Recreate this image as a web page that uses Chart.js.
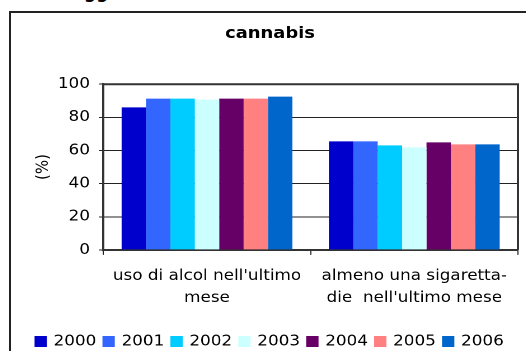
<!DOCTYPE html>
<html>
<head>
<meta charset="utf-8">
<script src="https://cdn.jsdelivr.net/npm/chart.js@4"></script>
<style>
  html, body { margin: 0; padding: 0; background: #fff; width: 526px; height: 351px; overflow: hidden; position: relative; font-family: "DejaVu Sans", sans-serif; }
  #frame { position: absolute; left: 9px; top: 11px; width: 600px; height: 400px; border-left: 2px solid #222; border-top: 2px solid #222; }
  #cut { position: absolute; left: 84px; top: -16px; font: bold 17px/17px "DejaVu Sans", sans-serif; color: #000; }
  #wrap { position: absolute; left: 12px; top: 0; width: 461px; height: 359px; transform: scaleX(1.1193); transform-origin: 0 0; }
</style>
</head>
<body>
<div id="cut">gg</div>
<div id="frame"></div>
<div id="wrap"><canvas id="c"></canvas></div>
<script>
const categories = [["uso di alcol nell'ultimo", "mese"], ["almeno una sigaretta-", "die  nell'ultimo mese"]];
const years = ["2000", "2001", "2002", "2003", "2004", "2005", "2006"];
const v2000 = [86.0, 65.5];
const v2001 = [91.3, 65.5];
const v2002 = [91.3, 63.1];
const v2003 = [90.7, 61.9];
const v2004 = [91.3, 64.9];
const v2005 = [91.3, 63.7];
const v2006 = [92.5, 63.7];
const yTicks = [0, 20, 40, 60, 80, 100];
const colors = ["#0000CC", "#3366FF", "#00CCFF", "#CCFFFF", "#660066", "#FF8080", "#0066CC"];
const seriesValues = [v2000, v2001, v2002, v2003, v2004, v2005, v2006];

const frameBox = {
  id: 'frameBox',
  afterDraw(chart) {
    const a = chart.chartArea, ctx = chart.ctx;
    ctx.save();
    ctx.strokeStyle = '#333';
    ctx.lineWidth = 2;
    ctx.beginPath();
    ctx.moveTo(a.left, a.top);
    ctx.lineTo(a.right, a.top);
    ctx.lineTo(a.right, a.bottom);
    ctx.stroke();
    ctx.restore();
  }
};

new Chart(document.getElementById('c'), {
  type: 'bar',
  data: {
    labels: categories,
    datasets: years.map((y, i) => ({
      label: y,
      data: seriesValues[i],
      backgroundColor: colors[i],
      borderWidth: 0,
      barPercentage: 1,
      categoryPercentage: 0.824
    }))
  },
  options: {
    responsive: true,
    maintainAspectRatio: false,
    animation: false,
    devicePixelRatio: 2,
    layout: { padding: { left: 9, right: 9, top: 0, bottom: 0 } },
    plugins: {
      title: {
        display: true,
        text: 'cannabis',
        color: '#000',
        font: { family: 'DejaVu Sans', size: 16, weight: 'bold' },
        padding: { top: 24, bottom: 41 }
      },
      legend: {
        position: 'bottom',
        labels: {
          color: '#000',
          font: { family: 'DejaVu Sans', size: 15 },
          boxWidth: 8,
          boxHeight: 8,
          padding: 7,
          generateLabels(chart) {
            const items = Chart.defaults.plugins.legend.labels.generateLabels(chart);
            items.forEach(it => { it.lineWidth = 3; it.strokeStyle = it.fillStyle; });
            return items;
          }
        }
      },
      tooltip: { enabled: false }
    },
    scales: {
      x: {
        offset: true,
        grid: { display: true, drawOnChartArea: false, offset: true, tickLength: 5, color: '#222' },
        border: { color: '#333', width: 2 },
        ticks: {
          color: '#000',
          font: { family: 'DejaVu Sans', size: 15, lineHeight: 1.47 },
          maxRotation: 0,
          autoSkip: false,
          padding: 10
        },
        afterFit(axis) { axis.height += 8; }
      },
      y: {
        min: 0,
        max: 100,
        afterBuildTicks(axis) { axis.ticks = yTicks.map(v => ({ value: v })); },
        grid: { color: '#222', tickLength: 4 },
        border: { color: '#333', width: 2 },
        ticks: {
          color: '#000',
          font: { family: 'DejaVu Sans', size: 15 },
          padding: 8
        },
        title: {
          display: true,
          text: '(%)',
          color: '#000',
          font: { family: 'DejaVu Sans', size: 15 },
          padding: { top: 10, bottom: -4 }
        }
      }
    }
  },
  plugins: [frameBox]
});
</script>
</body>
</html>
